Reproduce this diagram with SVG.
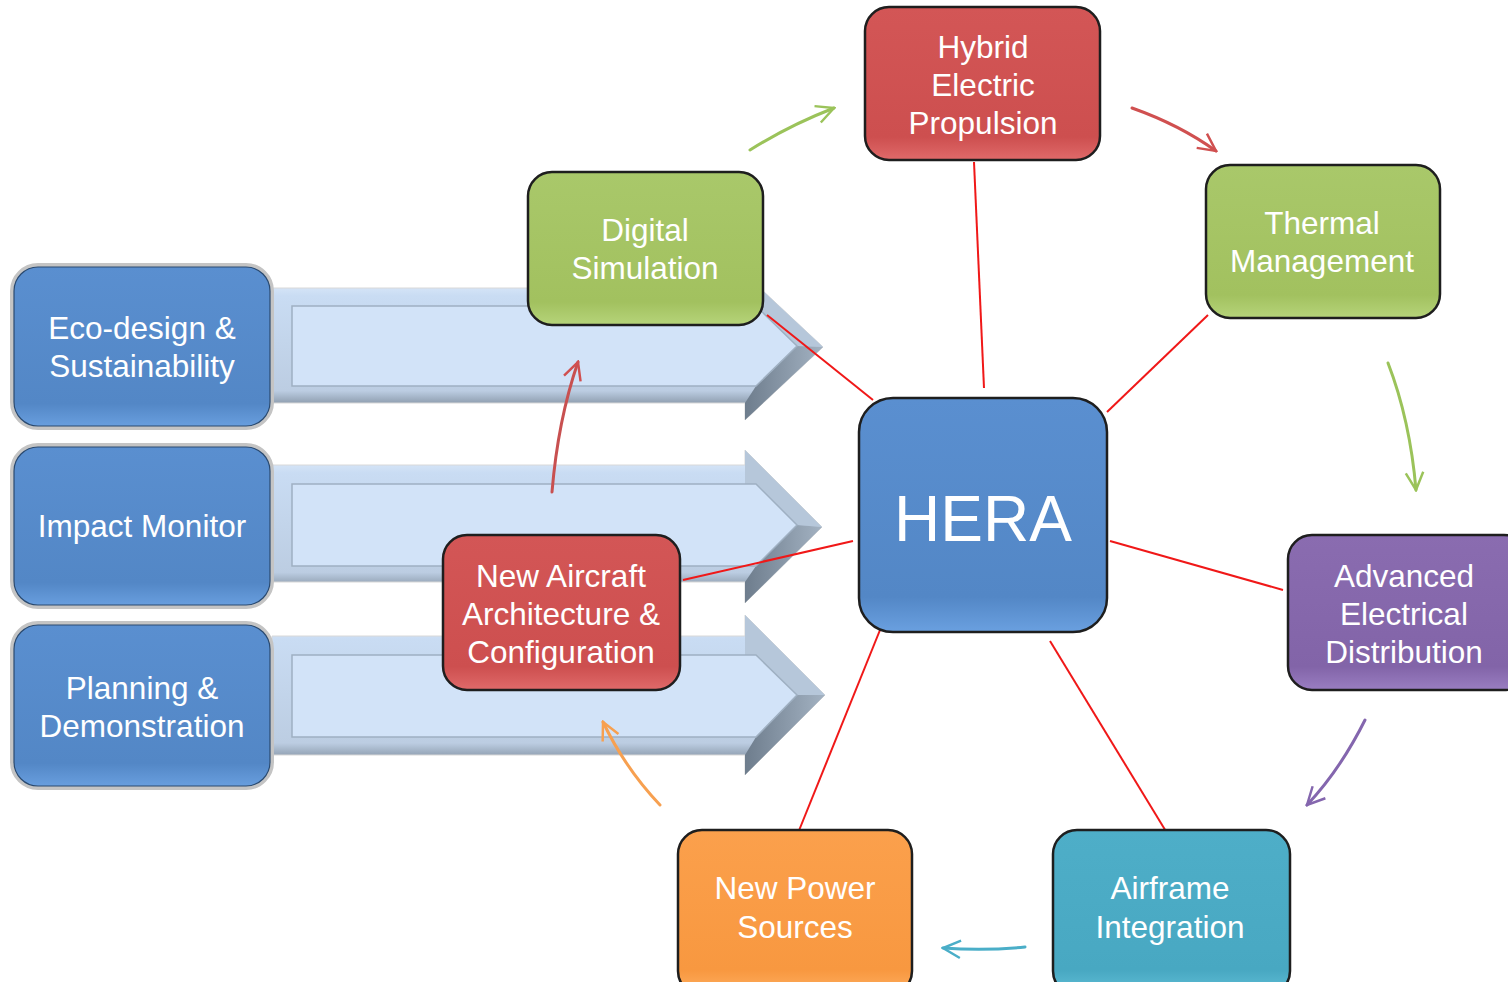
<svg xmlns="http://www.w3.org/2000/svg" width="1508" height="982" viewBox="0 0 1508 982">
<style>
.t{font-family:"Liberation Sans",Arial,sans-serif;font-size:31.5px;fill:#fff;text-anchor:middle}
.node{stroke:#1e1e1e;stroke-width:2.5}
.lnode{stroke:#c4c4c4;stroke-width:4}
.link{stroke:#f01818;stroke-width:2;fill:none}
.cv{fill:none;stroke-width:3;stroke-linecap:round}
.outer{fill:url(#gBar);stroke:#d8d8d8;stroke-width:1}
.inner{fill:#d2e3f8;stroke:#9fb0c2;stroke-width:1.5}
.bvl{fill:url(#gBevel)}
.bvu{fill:#b6c7da}
</style>
<defs>
<linearGradient id="gBar" x1="0" y1="0" x2="0" y2="1">
<stop offset="0" stop-color="#e8f1fc"/><stop offset="0.15" stop-color="#c9dcf3"/><stop offset="0.8" stop-color="#bccde2"/><stop offset="0.92" stop-color="#7d8c9c"/><stop offset="1" stop-color="#c0cad6"/>
</linearGradient>
<linearGradient id="gBevel" x1="0" y1="0" x2="1" y2="0"><stop offset="0" stop-color="#6e7d8d"/><stop offset="1" stop-color="#a3b2c2"/></linearGradient>
<linearGradient id="gBlue" x1="0" y1="0" x2="0" y2="1"><stop offset="0" stop-color="#5a8fd0"/><stop offset="0.85" stop-color="#5387c6"/><stop offset="1" stop-color="#6aa0e0"/></linearGradient>
<linearGradient id="gGreen" x1="0" y1="0" x2="0" y2="1"><stop offset="0" stop-color="#a9c86a"/><stop offset="0.85" stop-color="#a2c15f"/><stop offset="1" stop-color="#b6d47a"/></linearGradient>
<linearGradient id="gRed" x1="0" y1="0" x2="0" y2="1"><stop offset="0" stop-color="#d35656"/><stop offset="0.85" stop-color="#cd4f4f"/><stop offset="1" stop-color="#e06a6a"/></linearGradient>
<linearGradient id="gPurple" x1="0" y1="0" x2="0" y2="1"><stop offset="0" stop-color="#8a6cb0"/><stop offset="0.85" stop-color="#8264a8"/><stop offset="1" stop-color="#9a7ec2"/></linearGradient>
<linearGradient id="gTeal" x1="0" y1="0" x2="0" y2="1"><stop offset="0" stop-color="#4eaec8"/><stop offset="0.85" stop-color="#48a8c2"/><stop offset="1" stop-color="#62c0d8"/></linearGradient>
<linearGradient id="gOrange" x1="0" y1="0" x2="0" y2="1"><stop offset="0" stop-color="#fba04c"/><stop offset="0.85" stop-color="#f89840"/><stop offset="1" stop-color="#ffb062"/></linearGradient>
<marker id="mGreen" viewBox="0 0 12 12" refX="11" refY="6" markerWidth="7" markerHeight="7" orient="auto" markerUnits="strokeWidth"><path d="M1,1 L11,6 L1,11" fill="none" stroke="#9bc35a" stroke-width="1.4"/></marker>
<marker id="mRed" viewBox="0 0 12 12" refX="11" refY="6" markerWidth="7" markerHeight="7" orient="auto" markerUnits="strokeWidth"><path d="M1,1 L11,6 L1,11" fill="none" stroke="#d05050" stroke-width="1.4"/></marker>
<marker id="mPurple" viewBox="0 0 12 12" refX="11" refY="6" markerWidth="7" markerHeight="7" orient="auto" markerUnits="strokeWidth"><path d="M1,1 L11,6 L1,11" fill="none" stroke="#8466ae" stroke-width="1.4"/></marker>
<marker id="mTeal" viewBox="0 0 12 12" refX="11" refY="6" markerWidth="7" markerHeight="7" orient="auto" markerUnits="strokeWidth"><path d="M1,1 L11,6 L1,11" fill="none" stroke="#4aaec8" stroke-width="1.4"/></marker>
<marker id="mOrange" viewBox="0 0 12 12" refX="11" refY="6" markerWidth="7" markerHeight="7" orient="auto" markerUnits="strokeWidth"><path d="M1,1 L11,6 L1,11" fill="none" stroke="#f7a050" stroke-width="1.4"/></marker>
</defs>
<rect width="1508" height="982" fill="#fff"/>

<g id="bars">
<polygon class="outer" points="272,288 745,288 745,274 823,347 745,420 745,403 272,403"/>
<polygon class="bvu" points="745,274 823,347 797,346 756,306 745,306"/>
<polygon class="bvl" points="823,347 745,420 745,403 756,386 797,346"/>
<polygon class="inner" points="292,306 756,306 797,346 756,386 292,386"/>
<polygon class="outer" points="272,465 745,465 745,450 822,527 745,603 745,582 272,582"/>
<polygon class="bvu" points="745,450 822,527 797,525 756,484 745,484"/>
<polygon class="bvl" points="822,527 745,603 745,582 756,566 797,525"/>
<polygon class="inner" points="292,484 756,484 797,525 756,566 292,566"/>
<polygon class="outer" points="272,636 745,636 745,615 825,695 745,775 745,755 272,755"/>
<polygon class="bvu" points="745,615 825,695 797,695 756,655 745,655"/>
<polygon class="bvl" points="825,695 745,775 745,755 756,737 797,695"/>
<polygon class="inner" points="292,655 756,655 797,695 756,737 292,737"/>
</g>

<g id="eco"><rect class="lnode" x="12" y="265" width="260" height="163" rx="26" fill="url(#gBlue)"/><rect x="14" y="267" width="256" height="159" rx="24" fill="none" stroke="#2a4a70" stroke-width="1.2"/>
<text class="t" x="142" y="339">Eco-design &amp;</text><text class="t" x="142" y="377">Sustainability</text></g>
<g id="impact"><rect class="lnode" x="12" y="445" width="260" height="162" rx="26" fill="url(#gBlue)"/><rect x="14" y="447" width="256" height="158" rx="24" fill="none" stroke="#2a4a70" stroke-width="1.2"/>
<text class="t" x="142" y="537">Impact Monitor</text></g>
<g id="planning"><rect class="lnode" x="12" y="623" width="260" height="165" rx="26" fill="url(#gBlue)"/><rect x="14" y="625" width="256" height="161" rx="24" fill="none" stroke="#2a4a70" stroke-width="1.2"/>
<text class="t" x="142" y="699">Planning &amp;</text><text class="t" x="142" y="737">Demonstration</text></g>

<g id="connectors">
<line class="link" x1="767" y1="315" x2="873" y2="400"/>
<line class="link" x1="974" y1="162" x2="984" y2="388"/>
<line class="link" x1="1208" y1="315" x2="1107" y2="412"/>
<line class="link" x1="1283" y1="590" x2="1110" y2="541"/>
<line class="link" x1="1167" y1="833" x2="1050" y2="641"/>
<line class="link" x1="798" y1="833" x2="880" y2="630"/>
<line class="link" x1="683" y1="580" x2="853" y2="541"/>
<path class="cv" stroke="#9bc35a" d="M750,150 Q790,125 834,108" marker-end="url(#mGreen)"/>
<path class="cv" stroke="#d05050" d="M1132,108 Q1180,125 1216,151" marker-end="url(#mRed)"/>
<path class="cv" stroke="#9bc35a" d="M1388,363 Q1410,420 1416,490" marker-end="url(#mGreen)"/>
<path class="cv" stroke="#8466ae" d="M1365,720 Q1340,770 1307,805" marker-end="url(#mPurple)"/>
<path class="cv" stroke="#4aaec8" d="M1025,947 Q985,951 943,948" marker-end="url(#mTeal)"/>
<path class="cv" stroke="#f7a050" d="M660,805 Q625,768 603,722" marker-end="url(#mOrange)"/>
<path class="cv" stroke="#c85050" d="M552,492 Q558,420 578,362" marker-end="url(#mRed)"/>
</g>

<g id="digital"><rect class="node" x="528" y="172" width="235" height="153" rx="24" fill="url(#gGreen)"/>
<text class="t" x="645" y="241">Digital</text><text class="t" x="645" y="279">Simulation</text></g>
<g id="hybrid"><rect class="node" x="865" y="7" width="235" height="153" rx="24" fill="url(#gRed)"/>
<text class="t" x="983" y="58">Hybrid</text><text class="t" x="983" y="96">Electric</text><text class="t" x="983" y="134">Propulsion</text></g>
<g id="thermal"><rect class="node" x="1206" y="165" width="234" height="153" rx="24" fill="url(#gGreen)"/>
<text class="t" x="1322" y="234">Thermal</text><text class="t" x="1322" y="272">Management</text></g>
<g id="advanced"><rect class="node" x="1288" y="535" width="240" height="155" rx="24" fill="url(#gPurple)"/>
<text class="t" x="1404" y="587">Advanced</text><text class="t" x="1404" y="625">Electrical</text><text class="t" x="1404" y="663">Distribution</text></g>
<g id="airframe"><rect class="node" x="1053" y="830" width="237" height="165" rx="24" fill="url(#gTeal)"/>
<text class="t" x="1170" y="899">Airframe</text><text class="t" x="1170" y="938">Integration</text></g>
<g id="power"><rect class="node" x="678" y="830" width="234" height="165" rx="24" fill="url(#gOrange)"/>
<text class="t" x="795" y="899">New Power</text><text class="t" x="795" y="938">Sources</text></g>
<g id="aircraft"><rect class="node" x="443" y="535" width="237" height="155" rx="24" fill="url(#gRed)"/>
<text class="t" x="561" y="587">New Aircraft</text><text class="t" x="561" y="625">Architecture &amp;</text><text class="t" x="561" y="663">Configuration</text></g>
<g id="hera"><rect class="node" x="859" y="398" width="248" height="234" rx="34" fill="url(#gBlue)"/>
<text class="t" x="983" y="541" style="font-size:64px">HERA</text></g>
</svg>
